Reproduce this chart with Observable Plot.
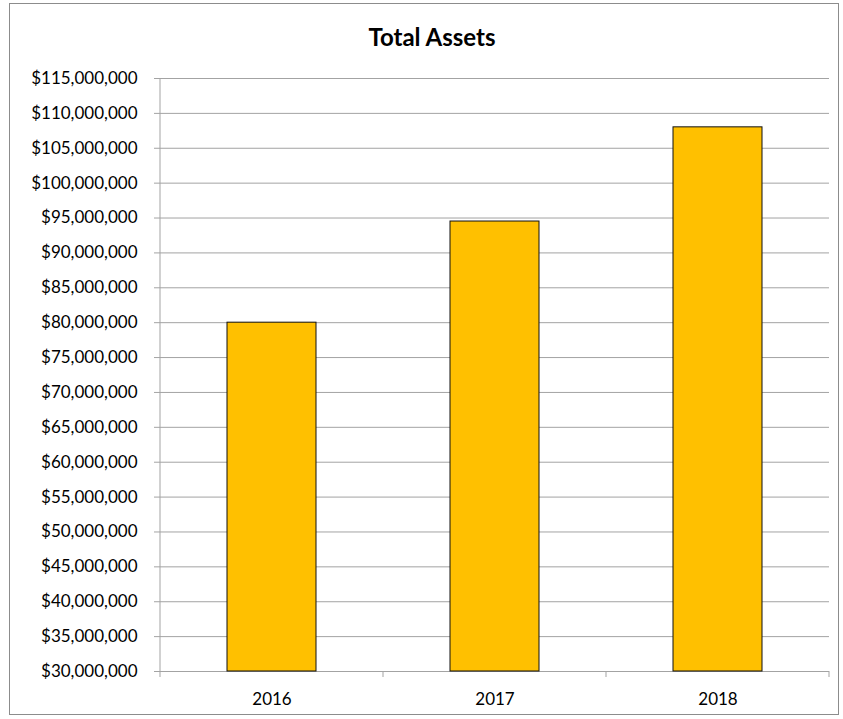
<!DOCTYPE html>
<html>
<head>
<meta charset="utf-8">
<script src="https://cdn.jsdelivr.net/npm/d3@7"></script>
<script src="https://cdn.jsdelivr.net/npm/@observablehq/plot@0.6"></script>
<style>
  html, body { margin: 0; padding: 0; background: #fff; }
  #wrap { position: relative; width: 843px; height: 719px; overflow: hidden; }
  #frame { position: absolute; left: 9px; top: 3px; width: 830px; height: 712px; border: 1px solid #8c8c8c; box-sizing: border-box; }
  #title { position: absolute; left: 0; top: 22px; width: 864px; text-align: center; font-family: Lato, sans-serif; font-weight: bold; font-size: 24px; color: #000; }
  #chart { position: absolute; left: 0; top: 0; }
</style>
</head>
<body>
<div id="wrap">
  <div id="frame"></div>
  <div id="title">Total Assets</div>
  <div id="chart"></div>
</div>
<script>
const years = ["2016", "2017", "2018"];
const totals = [80000000, 94500000, 108000000];
const yTicks = [30000000, 35000000, 40000000, 45000000, 50000000, 55000000, 60000000, 65000000, 70000000, 75000000, 80000000, 85000000, 90000000, 95000000, 100000000, 105000000, 110000000, 115000000];
const yMin = 30000000, yMax = 115000000;

const data = years.map((year, i) => ({year, value: totals[i]}));
const fmt = d => "$" + d3.format(",")(d);
const gridColor = "#a3a3a3";

function axisDecor(index, scales, values, dimensions) {
  const {x} = scales;
  const {width, height, marginLeft, marginRight, marginTop, marginBottom} = dimensions;
  const step = typeof x.step === "function" ? x.step() : (width - marginLeft - marginRight) / years.length;
  const bw = typeof x.bandwidth === "function" ? x.bandwidth() : x.bandwidth;
  const off = (step - bw) / 2;
  const bounds = years.map(y => x(y) - off);
  bounds.push(x(years[years.length - 1]) + bw + off);
  const g = d3.create("svg:g");
  const yb = height - marginBottom;
  g.selectAll("line.t").data(bounds).join("line")
    .attr("x1", d => d).attr("x2", d => d)
    .attr("y1", yb).attr("y2", yb + 6)
    .attr("stroke", gridColor);
  g.append("line")
    .attr("x1", marginLeft).attr("x2", marginLeft)
    .attr("y1", marginTop).attr("y2", yb)
    .attr("stroke", gridColor);
  return g.node();
}

const chart = Plot.plot({
  width: 843,
  height: 719,
  marginLeft: 160,
  marginRight: 14,
  marginTop: 78,
  marginBottom: 48,
  style: {fontFamily: "Lato, sans-serif", fontSize: "17px", color: "#000", background: "transparent"},
  x: {domain: years, paddingInner: 0.6, paddingOuter: 0.3, label: null},
  y: {domain: [yMin, yMax], ticks: yTicks, tickFormat: fmt, label: null},
  marks: [
    Plot.gridY(yTicks, {stroke: gridColor, strokeOpacity: 1}),
    Plot.barY(data, {x: "year", y1: yMin, y2: "value", fill: "#FFC000", stroke: "#111", strokeWidth: 1}),
    Plot.axisY(yTicks, {tickSize: 6, tickPadding: 17, tickFormat: fmt, stroke: gridColor, strokeOpacity: 1, fill: "#000", fontSize: 17}),
    Plot.axisX({tickSize: 0, tickPadding: 21, fill: "#000", fontSize: 17}),
    axisDecor
  ]
});
document.getElementById("chart").appendChild(chart);
</script>
</body>
</html>
